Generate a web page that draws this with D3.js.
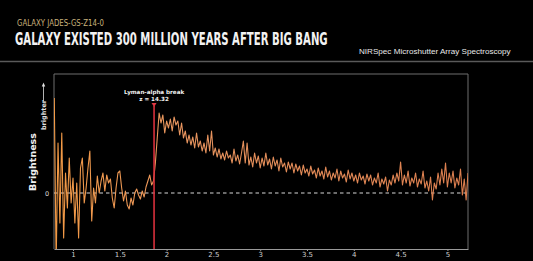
<!DOCTYPE html>
<html><head><meta charset="utf-8">
<script src="https://cdn.jsdelivr.net/npm/d3@7"></script>
<style>html,body{margin:0;padding:0;background:#000;}svg{display:block;}</style>
</head><body>
<script>
// ---- data ----
const waveStart = 0.80, waveStep = 0.02; // micron grid of the spectrum
const brightness = [
 0.95,-0.70,0.50,-0.30,0.60,-0.45,0.20,-0.15,0.35,-0.10,
 0.15,-0.30,0.10,-0.45,0.25,0.35,-0.10,0.05,0.25,0.42,
 -0.28,0.05,-0.10,0.17,0.00,0.12,0.20,0.02,0.18,0.10,
 0.14,-0.05,-0.15,0.05,0.20,0.22,0.05,-0.08,0.02,-0.12,
 -0.16,-0.05,-0.12,0.00,0.04,-0.02,-0.06,0.02,-0.04,0.06,
 0.12,0.18,0.08,0.12,0.30,0.55,0.80,0.70,0.78,0.60,
 0.72,0.65,0.74,0.62,0.76,0.68,0.72,0.58,0.70,0.55,
 0.62,0.50,0.58,0.48,0.56,0.45,0.60,0.46,0.52,0.42,
 0.50,0.40,0.58,0.42,0.62,0.38,0.45,0.36,0.44,0.34,
 0.40,0.33,0.42,0.35,0.38,0.30,0.44,0.32,0.38,0.29,
 0.40,0.52,0.30,0.50,0.28,0.36,0.26,0.40,0.30,0.37,
 0.25,0.35,0.27,0.40,0.28,0.34,0.24,0.36,0.27,0.33,
 0.22,0.35,0.26,0.30,0.21,0.31,0.24,0.30,0.20,0.29,
 0.22,0.27,0.18,0.28,0.20,0.24,0.17,0.27,0.19,0.23,
 0.15,0.25,0.17,0.22,0.14,0.26,0.16,0.22,0.13,0.20,
 0.15,0.24,0.12,0.22,0.15,0.19,0.11,0.23,0.14,0.20,
 0.12,0.18,0.10,0.20,0.13,0.17,0.09,0.19,0.12,0.18,
 0.08,0.15,0.10,0.20,0.06,0.14,0.09,0.16,0.02,0.13,
 0.08,0.18,0.10,0.20,0.12,0.31,0.08,0.18,0.10,0.22,
 0.07,0.15,0.10,0.20,0.06,0.14,0.09,0.22,0.05,0.12,
 0.02,0.16,-0.07,0.10,0.04,0.20,0.08,0.24,0.10,0.30,
 0.06,0.20,0.10,0.22,0.05,0.15,0.08,0.24,-0.02,0.14,
 -0.07,0.20
];
const xTicks = [1, 1.5, 2, 2.5, 3, 3.5, 4, 4.5, 5];
const xTickLabels = ["1", "1.5", "2", "2.5", "3", "3.5", "4", "4.5", "5"];
const lymanBreak = 1.866;
const breakLabel = ["Lyman-alpha break", "z = 14.32"];
const kicker = "GALAXY JADES-GS-Z14-0";
const title = "GALAXY EXISTED 300 MILLION YEARS AFTER BIG BANG";
const instrument = "NIRSpec Microshutter Array Spectroscopy";

const spectrum = brightness.map((v, i) => ({w: waveStart + waveStep * i, v}));

// ---- layout ----
const W = 533, H = 261;
const plot = {l: 54, r: 468, t: 74, b: 249};
const svg = d3.select("body").append("svg").attr("width", W).attr("height", H)
  .style("background", "#000");

const x = d3.scaleLinear().domain([0.797, 5.22]).range([plot.l, plot.r]);
const y = d3.scaleLinear().domain([-0.56, 1.19]).range([plot.b, plot.t]);

// fit a text horizontally to a target width with a transform
function fitText(sel, x0, y0, width) {
  const len = sel.node().getComputedTextLength();
  sel.attr("transform", `translate(${x0},${y0}) scale(${width / len},1)`);
}

// header
const k = svg.append("text").text(kicker)
  .attr("font-family", "DejaVu Sans Condensed, DejaVu Sans").attr("font-size", 9.5)
  .attr("fill", "#c9b27c");
fitText(k, 17, 26, 87);
const t = svg.append("text").text(title)
  .attr("font-family", "DejaVu Sans Condensed, DejaVu Sans").attr("font-weight", "bold")
  .attr("font-size", 18).attr("fill", "#f2f2f2");
fitText(t, 15, 45, 313);
svg.append("text").attr("x", 359).attr("y", 54).text(instrument)
  .attr("font-family", "Liberation Sans, Arial, sans-serif").attr("font-size", 8.1)
  .attr("fill", "#e8e8e8");
svg.append("line").attr("x1", 0).attr("x2", W).attr("y1", 61.5).attr("y2", 61.5)
  .attr("stroke", "#5a5a5a").attr("stroke-width", 1.5);

// frame
svg.append("path")
  .attr("d", `M${plot.l},${plot.b}V${plot.t}H${plot.r}V${plot.b}`)
  .attr("fill", "none").attr("stroke", "#6e6e6e").attr("stroke-width", 1);

// x axis
const xAxis = d3.axisBottom(x).tickValues(xTicks).tickFormat((d, i) => xTickLabels[i])
  .tickSizeInner(2).tickSizeOuter(0).tickPadding(1);
const gx = svg.append("g").attr("transform", `translate(0,${plot.b})`).call(xAxis);
gx.select(".domain").attr("stroke", "#9a9a9a").attr("stroke-width", 1.2);
gx.selectAll(".tick line").attr("stroke", "#9a9a9a");
gx.selectAll(".tick text").attr("fill", "#cfcfcf").attr("font-size", 7)
  .attr("font-family", "DejaVu Sans, sans-serif");

// zero line
svg.append("line").attr("x1", plot.l).attr("x2", plot.r).attr("y1", y(0)).attr("y2", y(0))
  .attr("stroke", "#d8d8d8").attr("stroke-width", 1).attr("stroke-dasharray", "3.5,3");
svg.append("text").attr("x", 47).attr("y", y(0) + 2.5).attr("text-anchor", "middle").text("0")
  .attr("fill", "#d8d8d8").attr("font-size", 6.5).attr("font-family", "DejaVu Sans, sans-serif");

// y labels
svg.append("text").attr("transform", `translate(36,162) rotate(-90)`)
  .attr("text-anchor", "middle").text("Brightness")
  .attr("fill", "#f0f0f0").attr("font-weight", "bold").attr("font-size", 9.5)
  .attr("font-family", "DejaVu Sans, sans-serif");
svg.append("text").attr("transform", `translate(45.5,115) rotate(-90)`)
  .attr("text-anchor", "middle").text("brighter")
  .attr("fill", "#e0e0e0").attr("font-weight", "bold").attr("font-size", 6.5)
  .attr("font-family", "DejaVu Sans, sans-serif");
svg.append("line").attr("x1", 43.5).attr("x2", 43.5).attr("y1", 101).attr("y2", 85)
  .attr("stroke", "#e0e0e0").attr("stroke-width", 0.8);
svg.append("path").attr("d", "M41.8,86.5L43.5,82.5L45.2,86.5Z").attr("fill", "#e0e0e0");

// spectrum
const defs = svg.append("defs");
const grad = defs.append("linearGradient").attr("id", "sg").attr("gradientUnits", "userSpaceOnUse")
  .attr("x1", plot.l).attr("x2", plot.r).attr("y1", 0).attr("y2", 0);
grad.append("stop").attr("offset", "0").attr("stop-color", "#f39a45");
grad.append("stop").attr("offset", "0.3").attr("stop-color", "#e8955f");
grad.append("stop").attr("offset", "1").attr("stop-color", "#dc7e4e");
defs.append("clipPath").attr("id", "pc").append("rect")
  .attr("x", plot.l).attr("y", plot.t).attr("width", plot.r - plot.l).attr("height", plot.b - plot.t);

const line = d3.line().x(d => x(d.w)).y(d => y(d.v));
svg.append("path").datum(spectrum).attr("d", line).attr("clip-path", "url(#pc)")
  .attr("fill", "none").attr("stroke", "url(#sg)").attr("stroke-width", 1.1)
  .attr("stroke-linejoin", "round");

// Lyman break marker
const bx = x(lymanBreak);
svg.append("line").attr("x1", bx).attr("x2", bx).attr("y1", 106).attr("y2", plot.b)
  .attr("stroke", "#d8303c").attr("stroke-width", 1.6);
svg.append("path").attr("d", `M${bx - 2.5},${103}L${bx + 2.5},${103}L${bx},${107}Z`).attr("fill", "#e03844");
svg.selectAll("text.bl").data(breakLabel).join("text").attr("class", "bl")
  .attr("x", bx).attr("y", (d, i) => 94 + i * 7).attr("text-anchor", "middle").text(d => d)
  .attr("fill", "#f0f0f0").attr("font-weight", "bold").attr("font-size", 5.6)
  .attr("font-family", "DejaVu Sans, sans-serif");
</script>
</body></html>
